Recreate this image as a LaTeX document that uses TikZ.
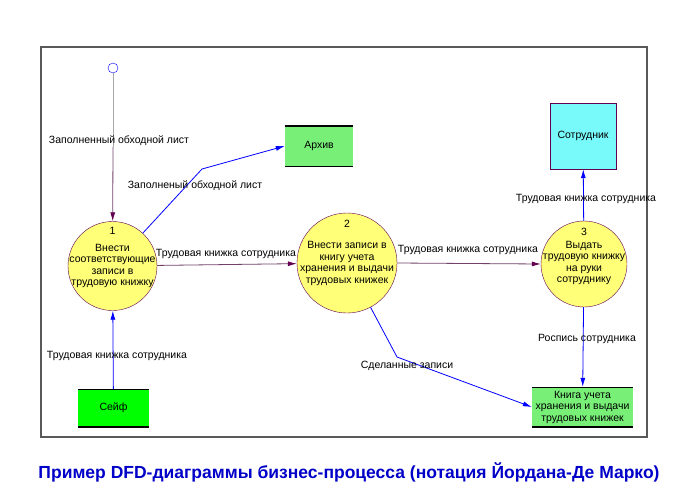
\documentclass[tikz,border=0pt]{standalone}
\usepackage{fontspec}
\setmainfont{Liberation Sans}
\usetikzlibrary{arrows.meta,positioning}
\definecolor{procfill}{RGB}{255,255,120}
\definecolor{storefill}{RGB}{120,240,120}
\definecolor{safefill}{RGB}{0,255,0}
\definecolor{extfill}{RGB}{120,250,250}
\definecolor{edgepurple}{RGB}{100,0,80}
\definecolor{titleblue}{RGB}{0,0,200}

\begin{document}
\begin{tikzpicture}[x=1pt,y=-1pt,
  lbl/.style={font=\fontsize{10.5}{11.5}\selectfont, inner sep=0pt},
  ptext/.style={lbl, align=center},
  proc/.style={circle, draw=edgepurple, fill=procfill, minimum size=#1pt, inner sep=0pt},
  store/.style={fill=#1, inner sep=0pt, align=center, font=\fontsize{10.5}{11.5}\selectfont,
    path picture={\draw[line width=2pt]
      (path picture bounding box.north west) -- (path picture bounding box.north east)
      (path picture bounding box.south west) -- (path picture bounding box.south east);}},
  extent/.style={draw=edgepurple, fill=extfill, minimum width=66pt, minimum height=66pt,
    font=\fontsize{10.5}{11.5}\selectfont},
  blueflow/.style={draw=blue, line width=0.8pt, -{Latex[length=9pt,width=5pt]}},
  darkflow/.style={draw=gray!50!edgepurple, line width=0.8pt,
    -{Latex[length=9pt,width=5pt,color=edgepurple]}}
  ]
  \useasboundingbox (0,0) rectangle (700,498);
  % frame
  \draw[gray!70!black, line width=1.2pt] (41,47) rectangle (647,437);

  % processes
  \node[proc=89, label={[ptext,yshift=8.5pt]center:{1\\[5.5pt]Внести\\соответствующие\\записи в\\трудовую книжку}}] (p1) at (112.5,266) {};
  \node[proc=100, label={[ptext,yshift=10pt]center:{2\\[9.5pt]Внести записи в\\книгу учета\\хранения и выдачи\\трудовых книжек}}] (p2) at (347,263) {};
  \node[proc=86, label={[ptext,yshift=7.5pt]center:{3\\[1.5pt]Выдать\\трудовую книжку\\на руки\\сотруднику}}] (p3) at (584,264) {};

  % stores and entities
  \node[store=storefill, minimum width=68pt, minimum height=41pt] (arch) at (319,146) {Архив};
  \node[store=safefill, minimum width=71pt, minimum height=38pt] (safe) at (113.5,408) {Сейф};
  \node[store=storefill, minimum width=101pt, minimum height=40pt] (book) at (582.5,407) {Книга учета\\хранения и выдачи\\трудовых книжек};
  \node[extent] (emp) at (583,136) {Сотрудник};

  % source
  \node[circle, draw=blue, minimum size=10pt, inner sep=0pt] (src) at (113,68) {};
  \coordinate (srcmid) at (113,147);
  \coordinate (bendA) at (202,169);
  \coordinate (bendB) at (397,357);

  % flows
  \draw[gray!70, line width=0.8pt] (src) -- (srcmid);
  \draw[darkflow] (srcmid) -- (p1);
  \draw[blueflow] (p1) -- (bendA) -- (arch.west);
  \draw[darkflow] (p1) -- (p2);
  \draw[darkflow] (p2.east) -- (p3.west);
  \draw[blueflow] (p3) -- (emp);
  \draw[blueflow] (safe) -- (p1);
  \draw[blueflow] (p2) -- (bendB) -- (book.west);
  \draw[blueflow] (p3) -- (book);

  % labels
  \node[lbl] (l1) at (119,141) {Заполненный обходной лист};
  \node[lbl] (l2) at (195,186) {Заполненый обходной лист};
  \node[lbl] (l3) at (226,254) {Трудовая книжка сотрудника};
  \node[lbl] (l4) at (468,250) {Трудовая книжка сотрудника};
  \node[lbl] (l5) at (586,199) {Трудовая книжка сотрудника};
  \node[lbl] (l6) at (117,356) {Трудовая книжка сотрудника};
  \node[lbl] (l7) at (407,366) {Сделанные записи};
  \node[lbl] (l8) at (587,339) {Роспись сотрудника};

  % title
  \node[font=\bfseries\fontsize{17.5}{20}\selectfont, text=titleblue] (title) at (349,472)
    {Пример DFD-диаграммы бизнес-процесса (нотация Йордана-Де Марко)};
\end{tikzpicture}
\end{document}
